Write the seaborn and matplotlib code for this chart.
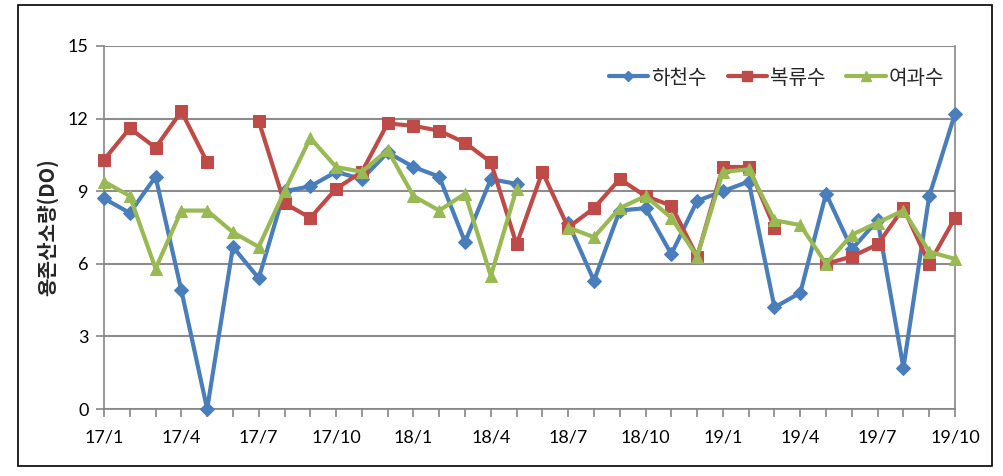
import numpy as np
import pandas as pd
import matplotlib
matplotlib.use("Agg")
import matplotlib.pyplot as plt
from matplotlib.lines import Line2D
from matplotlib.patches import Rectangle
import seaborn as sns

tick_labels = ["17/1", "17/4", "17/7", "17/10", "18/1", "18/4", "18/7",
               "18/10", "19/1", "19/4", "19/7", "19/10"]

nan = np.nan
river = [8.7, 8.1, 9.6, 4.9, 0.0, 6.7, 5.4, 9.0, 9.2, 9.8, 9.5, 10.6,
         10.0, 9.6, 6.9, 9.5, 9.3, nan, 7.7, 5.3, 8.2, 8.3, 6.4, 8.6,
         9.0, 9.4, 4.2, 4.8, 8.9, 6.6, 7.8, 1.7, 8.8, 12.2]
under = [10.3, 11.6, 10.8, 12.3, 10.2, nan, 11.9, 8.5, 7.9, 9.1, 9.8, 11.8,
         11.7, 11.5, 11.0, 10.2, 6.8, 9.8, 7.5, 8.3, 9.5, 8.8, 8.4, 6.3,
         10.0, 10.0, 7.5, nan, 6.0, 6.3, 6.8, 8.3, 6.0, 7.9]
filt = [9.4, 8.8, 5.8, 8.2, 8.2, 7.3, 6.7, 9.0, 11.2, 10.0, 9.8, 10.7,
        8.8, 8.2, 8.9, 5.5, 9.1, nan, 7.5, 7.1, 8.3, 8.8, 7.9, 6.3,
        9.8, 9.9, 7.8, 7.6, 6.0, 7.2, 7.7, 8.2, 6.5, 6.2]

series_names = ["하천수", "복류수", "여과수"]
series_vals = [river, under, filt]
colors = ["#4A7EBB", "#BE4B48", "#98B954"]
markers = ["D", "s", "^"]
msizes = [7, 8, 8.5]
leg_msizes = [5.5, 6.5, 6.5]

sns.set_theme(style="white")
plt.rcParams['font.family'] = ['Noto Sans CJK KR', 'DejaVu Sans']

fig = plt.figure(figsize=(10.04, 4.76), dpi=100)
ax = fig.add_axes([104/1004, 1-409/476, (955-104)/1004, (409-46)/476])

for name, vals, c, mk, ms in zip(series_names, series_vals, colors, markers, msizes):
    df = pd.DataFrame({"idx": np.arange(len(vals)), "v": vals})
    df["seg"] = df["v"].isna().cumsum()
    df = df.dropna()
    for _, sub in df.groupby("seg"):
        sns.lineplot(data=sub, x="idx", y="v", ax=ax, color=c, lw=3,
                     marker=mk, markersize=ms, markeredgecolor=c,
                     estimator=None, sort=False, legend=False, clip_on=False,
                     zorder=3)

ax.set_xlim(0, 33)
ax.set_ylim(0, 15)
ax.set_yticks([0, 3, 6, 9, 12, 15])
ax.set_xticks(np.arange(0, 34, 3))
ax.set_xticks(np.arange(0, 34), minor=True)
ax.set_xticklabels(tick_labels)
tickfont = ['Lato', 'DejaVu Sans']
for lab in ax.get_xticklabels() + ax.get_yticklabels():
    lab.set_family(tickfont)
    lab.set_fontsize(13)
    lab.set_color('black')
ax.tick_params(axis='x', which='both', direction='out', length=6, width=1.2,
               color='#868686', pad=9, bottom=True)
ax.tick_params(axis='y', which='both', direction='out', length=6, width=1.2,
               color='#868686', pad=5, left=True)
ax.yaxis.grid(True, color='#8C8C8C', lw=1.5)
ax.xaxis.grid(False)
ax.set_axisbelow(True)
for s in ['left', 'bottom', 'right']:
    ax.spines[s].set_color('#868686')
    ax.spines[s].set_linewidth(1.2)
ax.spines['top'].set_visible(False)
ax.set_xlabel("")
ax.set_ylabel("용존산소량(DO)", fontsize=14.5, fontweight='bold')
ax.yaxis.set_label_coords(-(104-58)/851, 0.5)

handles = [Line2D([0], [0], color=c, lw=3, marker=mk, markersize=ms, markeredgecolor=c)
           for c, mk, ms in zip(colors, markers, leg_msizes)]
ax.legend(handles, series_names, loc='center right',
          bbox_to_anchor=((940-104)/851 + 0.005, (409-78)/363),
          ncol=3, frameon=False, fontsize=14.5, handlelength=1.95, columnspacing=1.05,
          handletextpad=0.15, borderaxespad=0, borderpad=0)

fig.patches.append(Rectangle((18/1004, 1-466/476), (992-18)/1004, (466-5)/476,
                             transform=fig.transFigure, fill=False,
                             edgecolor='black', lw=1.2))

fig.savefig("out.png", dpi=100)
